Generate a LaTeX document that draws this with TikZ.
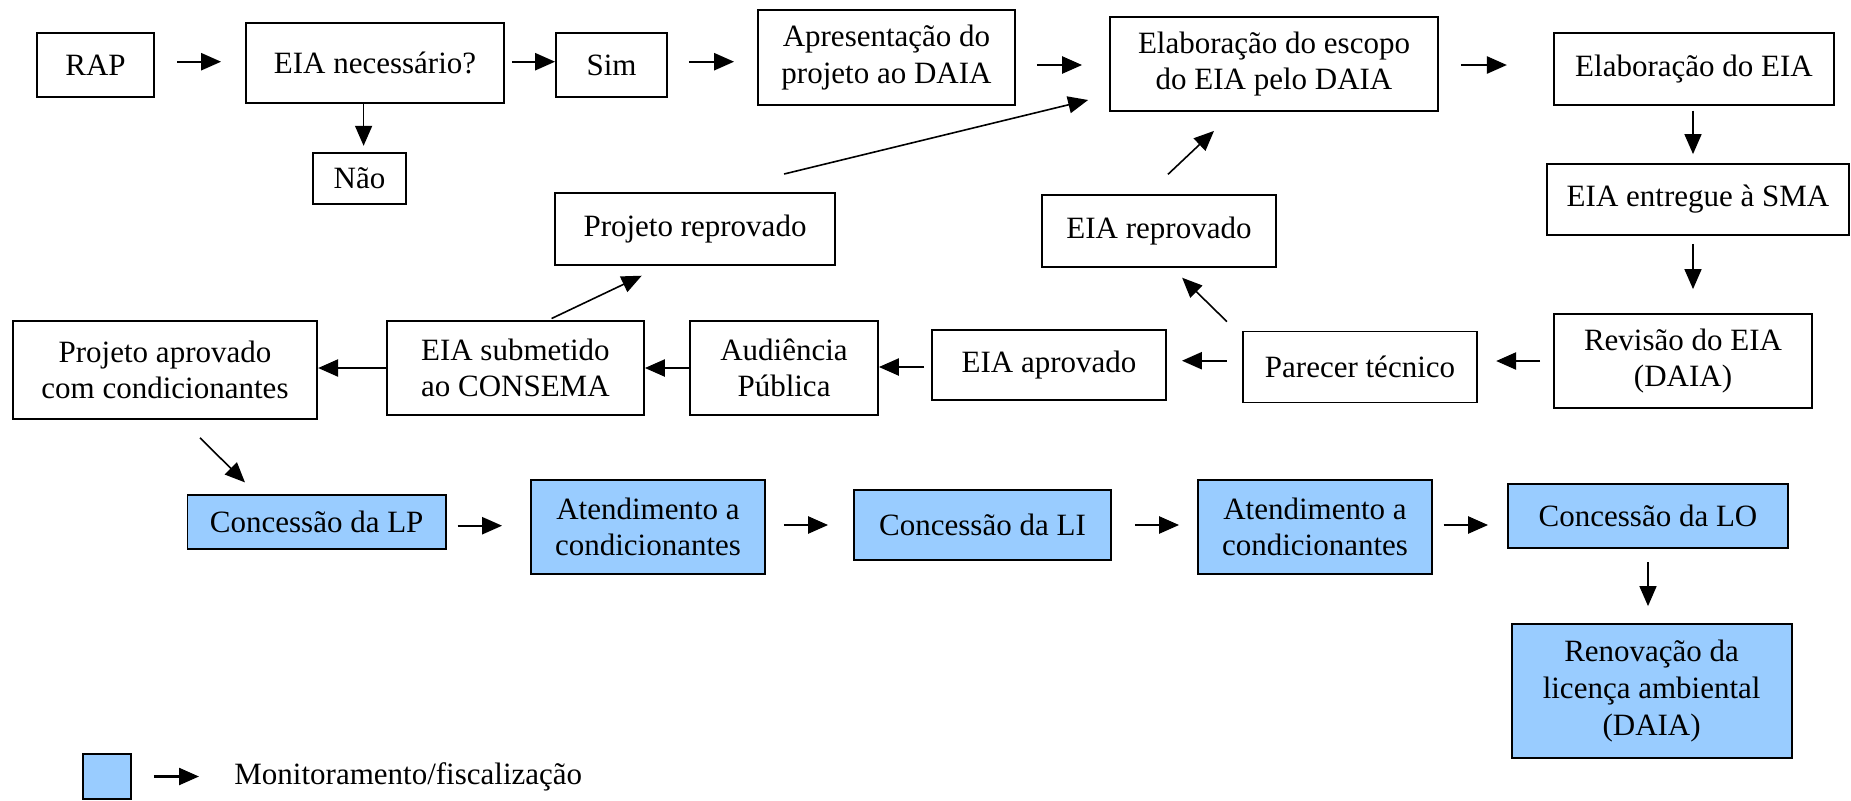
\documentclass[tikz,border=0pt]{standalone}
\usepackage{fontspec}
\setmainfont{Liberation Serif}
\usetikzlibrary{arrows.meta,calc}
\definecolor{lblue}{HTML}{99CCFF}
\begin{document}
\begin{tikzpicture}[x=0.5pt,y=-0.5pt,
  box/.style={draw,line width=0.9pt,inner sep=0pt,align=center,font=\fontsize{15.5}{18.3}\selectfont},
  lic/.style={box,fill=lblue},
  arr/.style={line width=1.2pt,-{Triangle[length=10pt,width=8.5pt]}},
  darr/.style={line width=0.8pt,-{Triangle[length=10pt,width=8.5pt]}}]
\useasboundingbox (0,0) rectangle (1851,800);
% top row
\node[box,minimum width=58.7pt,minimum height=32pt] (rap) at (95.5,65.3) {RAP};
\node[box,minimum width=129pt,minimum height=40.3pt] (nec) at (375,63) {EIA necessário?};
\node[box,minimum width=55.5pt,minimum height=32pt] (sim) at (611.5,65.3) {Sim};
\node[box,minimum width=128.5pt,minimum height=47.5pt] (apres) at (886.5,57.5) {Apresentação do\\projeto ao DAIA};
\node[box,minimum width=164pt,minimum height=46.7pt] (escopo) at (1274,64) {Elaboração do escopo\\do EIA pelo DAIA};
\node[box,minimum width=140.2pt,minimum height=35.8pt] (elab) at (1694,69) {Elaboração do EIA};
\node[box,minimum width=46.8pt,minimum height=25.6pt] (nao) at (359.5,178.3) {Não};
\node[box,minimum width=140.2pt,minimum height=35.8pt] (projrep) at (695,229) {Projeto reprovado};
\node[box,minimum width=117.2pt,minimum height=35.8pt] (eiarep) at (1159,231) {EIA reprovado};
\node[box,minimum width=151.2pt,minimum height=35.5pt] (entregue) at (1698,199.5) {EIA entregue à SMA};
% middle row
\node[box,minimum width=129pt,minimum height=47pt] (revisao) at (1683,361) {Revisão do EIA\\(DAIA)};
\node[box,minimum width=117.2pt,minimum height=35.5pt] (parecer) at (1360,367) {Parecer técnico};
\node[box,minimum width=117pt,minimum height=35.3pt] (eiaapr) at (1049,365) {EIA aprovado};
\node[box,minimum width=94pt,minimum height=47.2pt] (audiencia) at (784,368) {Audiência\\Pública};
\node[box,minimum width=128.6pt,minimum height=47.2pt] (submetido) at (515.4,368) {EIA submetido\\ao CONSEMA};
\node[box,minimum width=152.2pt,minimum height=49.2pt] (projapr) at (165,370) {Projeto aprovado\\com condicionantes};
% bottom row
\node[lic,minimum width=129.3pt,minimum height=27pt] (lp) at (316.7,522) {Concessão da LP};
\node[lic,minimum width=117pt,minimum height=47pt] (atend1) at (648,527) {Atendimento a\\condicionantes};
\node[lic,minimum width=128.5pt,minimum height=35.3pt] (li) at (982.5,525) {Concessão da LI};
\node[lic,minimum width=117pt,minimum height=47pt] (atend2) at (1315,527) {Atendimento a\\condicionantes};
\node[lic,minimum width=140pt,minimum height=32.3pt] (lo) at (1648,516) {Concessão da LO};
\node[lic,minimum width=140pt,minimum height=67pt] (renov) at (1651.6,691) {Renovação da\\licença ambiental\\(DAIA)};
% legend
\node[lic,minimum width=24pt,minimum height=22.5pt] (leg) at (107,776.5) {};
\node[inner sep=0pt,anchor=west,font=\fontsize{15.5}{18.3}\selectfont] (legtext) at (234,777) {Monitoramento/fiscalização};
% connectors
\draw[arr] ($(rap.east)+(22,-3.6)$) -- ($(rap.east -| nec.west)+(-24,-3.6)$);
\draw[arr] ($(nec.east)+(7,-1.3)$) -- ($(nec.east -| sim.west)+(0,-1.3)$);
\draw[arr] ($(sim.east)+(21,-3.6)$) -- ($(sim.east -| apres.west)+(-23,-3.6)$);
\draw[arr] ($(apres.east)+(21,7.5)$) -- ($(apres.east -| escopo.west)+(-27,7.5)$);
\draw[arr] ($(escopo.east)+(22,1)$) -- ($(escopo.east -| elab.west)+(-46,1)$);
\draw[darr] ($(elab.south)+(-1,5)$) -- ($(elab.south |- entregue.north)+(-1,-9)$);
\draw[darr] ($(entregue.south)+(-5,8)$) -- ($(entregue.south |- revisao.north)+(-5,-24)$);
\draw[arr] ($(revisao.west)+(-13,0)$) -- ($(revisao.west -| parecer.east)+(18,0)$);
\draw[arr] ($(parecer.west)+(-15,-6.3)$) -- ($(parecer.west -| eiaapr.east)+(15,-6.3)$);
\draw[arr] ($(eiaapr.west)+(-7,2)$) -- ($(eiaapr.west -| audiencia.east)+(0,2)$);
\draw[arr] (audiencia.west) -- (audiencia.west -| submetido.east);
\draw[arr] (submetido.west) -- (submetido.west -| projapr.east);
\draw[darr] ($(parecer.north west)+(-15,-9)$) -- ($(eiarep.south east)+(-95,10)$);
\draw[darr] ($(eiarep.north)+(9,-20)$) -- ($(escopo.south)+(-60,19.3)$);
\draw[darr] ($(projrep.north east)+(-52,-18.3)$) -- ($(escopo.west)+(-21,36)$);
\draw[darr] ($(submetido.north)+(36.2,-1.4)$) -- ($(projrep.south)+(-53.3,10)$);
\draw[darr] ($(projapr.south)+(35,17.7)$) -- ($(lp.north)+(-71.7,-11.7)$);
\draw[darr] ($(nec.south)+(-11.4,0)$) -- ($(nao.north)+(4.1,-6)$);
\draw[arr] ($(lp.east)+(10.7,3.7)$) -- ($(lp.east -| atend1.west)+(-28,3.7)$);
\draw[arr] ($(atend1.east)+(18,-2)$) -- ($(atend1.east -| li.west)+(-25,-2)$);
\draw[arr] ($(li.east)+(23,0)$) -- ($(li.east -| atend2.west)+(-18,0)$);
\draw[arr] ($(atend2.east)+(10.6,-2)$) -- ($(atend2.east -| lo.west)+(-19,-2)$);
\draw[darr] ($(lo.south)+(0,13)$) -- ($(lo.south |- renov.north)+(0,-17)$);
\draw[arr] ($(leg.east)+(22,0)$) -- ($(leg.east -| legtext.west)+(-35,0)$);
\end{tikzpicture}
\end{document}
